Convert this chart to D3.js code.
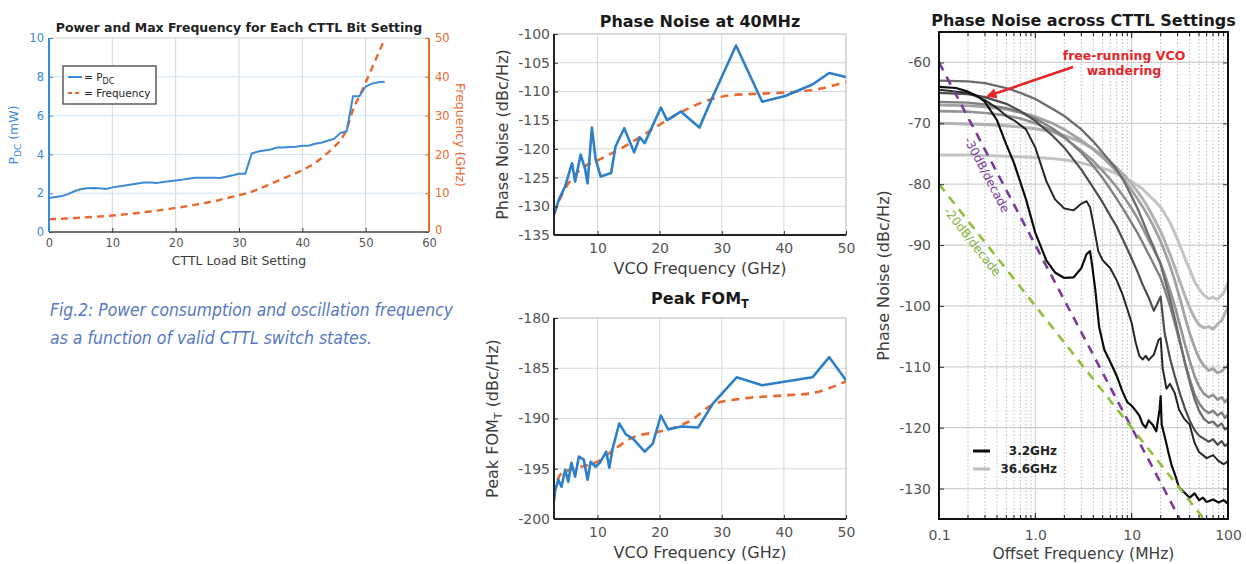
<!DOCTYPE html>
<html><head><meta charset="utf-8">
<script src="https://cdn.jsdelivr.net/npm/d3@7"></script>
<style>
body{margin:0;background:#fff}
svg{display:block}
text{font-family:"DejaVu Sans",sans-serif}
</style>
</head><body>
<svg id="c" width="1246" height="564"></svg>
<script>
// ---------------- DATA ----------------
// Panel 1: Power & max frequency vs CTTL bit setting
const bitSettings = [0,1,2,3,4,5,6,7,8,9,10,11,12,13,14,15,16,17,18,19,20,21,22,23,24,25,26,27,28,29,30,31,32,33,34,35,36,37,38,39,40,41,42,43,44,45,46,47,48,49,50,51,52,53];
const pdcValues = [1.75,1.8,1.85,1.95,2.1,2.2,2.25,2.27,2.25,2.22,2.3,2.35,2.4,2.45,2.5,2.55,2.55,2.52,2.58,2.62,2.66,2.7,2.75,2.8,2.8,2.8,2.8,2.78,2.85,2.92,3.0,3.0,4.05,4.15,4.2,4.25,4.35,4.35,4.38,4.4,4.45,4.45,4.55,4.6,4.7,4.8,5.1,5.2,7.0,7.0,7.5,7.65,7.72,7.75];
const freqValues = [3.3,3.35,3.4,3.5,3.6,3.7,3.8,3.9,4.0,4.1,4.25,4.4,4.55,4.7,4.9,5.1,5.3,5.5,5.7,5.95,6.2,6.45,6.7,7.0,7.3,7.6,7.95,8.3,8.7,9.1,9.5,9.9,10.4,11.0,11.7,12.4,13.1,13.8,14.5,15.2,15.9,16.8,17.8,19.0,20.4,21.9,23.6,26.5,31.5,35.0,38.5,42.3,46.0,49.8];
const p1XTicks = [0,10,20,30,40,50,60];
const p1LeftTicks = [0,2,4,6,8,10];
const p1RightTicks = [0,10,20,30,40,50];

// Panel 2: Phase noise at 40 MHz vs VCO frequency
const pnVcoGHz = [3.0,3.8,4.8,5.9,6.4,7.3,8.0,8.4,9.1,9.7,10.5,12.2,12.9,14.3,15.9,16.8,17.6,20.2,21.2,23.4,26.4,28.6,32.3,36.5,40.2,44.6,47.3,50.0];
const pnValues = [-131.5,-128.8,-126.5,-122.5,-125.7,-121,-123.5,-126,-116.3,-121.8,-124.8,-124.2,-119.6,-116.4,-120.6,-118,-119,-112.8,-115,-113.5,-116.3,-110.8,-102,-111.8,-110.8,-108.8,-106.8,-107.5];
const pnFitGHz = [3,4.5,6,8,10,14.5,20,24,28.5,32,36,41.5,46,50];
const pnFitValues = [-131.2,-127.5,-125,-123,-122,-119.5,-115.8,-113.3,-111.3,-110.6,-110.4,-110.1,-109.5,-108.3];
const pnTicks = [-135,-130,-125,-120,-115,-110,-105,-100];

// Panel 3: Peak FOM_T vs VCO frequency
const fomVcoGHz = [3.0,3.2,3.7,4.2,4.8,5.3,5.8,6.4,7.0,7.8,8.4,8.9,9.7,10.5,11.4,11.9,12.4,13.5,14.6,15.7,17.6,18.9,20.2,21.4,23.5,26.2,28.6,32.4,36.5,44.6,47.3,50.0];
const fomValues = [-198.2,-197.1,-196.1,-196.8,-195.1,-196.3,-194.4,-195.8,-193.8,-194.1,-196.1,-194.3,-194.8,-194.3,-193.3,-194.9,-193.1,-190.5,-191.6,-192,-193.3,-192.5,-189.7,-191.1,-190.8,-190.9,-188.5,-185.9,-186.7,-185.9,-183.9,-186.2];
const fomFitGHz = [3,4,6,8,10,12.4,16,20,25,28.6,32.4,40,44.3,50];
const fomFitValues = [-197.5,-195.6,-195,-194.7,-194.3,-193.2,-191.8,-191.3,-190.2,-188.6,-188.1,-187.7,-187.5,-186.3];
const vcoTicks = [10,20,30,40,50];
const fomTicks = [-200,-195,-190,-185,-180];

// Panel 4: Phase noise spectra across CTTL settings (offset MHz -> dBc/Hz)
const offsetBlack1 = [0.1,0.15,0.2,0.25,0.3,0.4,0.5,0.6,0.8,1.0,1.3,1.6,2.0,2.5,3.0,3.4,3.7,3.9,4.2,4.6,5.2,6.0,7.0,8.0,9.0,10,11,12,13,14,15,16.5,18,19.5,20,20.5,22,24,26,28,31,35,40,45,50,55,60,70,80,90,100];
const pn3p2GHz = [-64,-64.2,-64.8,-65.5,-66.5,-69.5,-73.5,-76.5,-82.5,-88,-92.5,-94.5,-95.4,-95.3,-93.8,-91.5,-91,-93.5,-97.5,-103.5,-107.2,-109.2,-111.5,-114,-115.8,-116.4,-117.2,-118,-119.4,-120,-118.8,-119.5,-120.6,-117,-114.8,-119.5,-121.4,-124,-126.2,-127.6,-129.8,-130.6,-131.5,-130.8,-131.9,-131.5,-132.2,-131.8,-132.3,-131.9,-132.5];
const offsetBlack2 = [0.1,0.2,0.3,0.4,0.5,0.6,0.8,1.0,1.3,1.6,2.0,2.5,3.0,3.4,3.7,4.0,4.5,5.0,6.0,7.0,8.0,9.0,10,11,12,13,14,15,17,19,20,21,23,25,28,31,35,40,45,50,60,70,80,90,100];
const pnSetting2 = [-64.5,-65,-66.2,-67.5,-68.8,-69.5,-71,-74,-79.5,-82.5,-84,-84.3,-83.2,-82.8,-83.8,-86.5,-91,-92.5,-93.8,-95.8,-98,-100.5,-102.8,-106,-108.2,-108.8,-108.2,-108.9,-108,-105.6,-105.3,-110.3,-113.6,-112.8,-114.3,-117,-118.5,-119.5,-122.5,-124,-125,-124.5,-125.5,-126,-125.5];
const offsetGrey = [0.1,0.2,0.3,0.5,0.7,1,1.5,2,3,4,5,6,7,8.5,10,11.5,13,15,17,20,22,25,28,32,36,40,45,50,56,63,70,78,86,93,100];
const pnSetting3 = [-65,-65.2,-65.7,-66.8,-68,-69.6,-72,-74,-77.6,-80.6,-83,-85.2,-87,-89.8,-92.2,-94.4,-96.5,-98.6,-100.8,-98.5,-104.5,-108.6,-111.5,-114.6,-117,-118.8,-120.4,-121.3,-121.8,-122.3,-121.9,-122.8,-122.2,-123,-122.6];
const pnSetting4 = [-63,-63.1,-63.4,-64.2,-65,-66,-67.6,-68.8,-71,-73,-74.8,-76.3,-77.6,-79.8,-82,-84,-86,-88.4,-90.4,-93.2,-95.6,-98.8,-102,-106,-109.6,-112.5,-115.3,-117.2,-118.5,-119.2,-119,-119.8,-119.3,-120.3,-120];
const pnSetting5 = [-66.5,-66.6,-66.9,-67.5,-68.2,-69.2,-70.8,-72.2,-74.8,-77,-79,-80.8,-82.4,-84.5,-86.4,-88,-89.6,-91.5,-93.2,-95.4,-97.3,-100,-102.8,-106.3,-109.5,-112,-114.5,-116,-117,-117.6,-117.2,-118,-117.5,-118.4,-117.8];
const pnSetting6 = [-68,-68.1,-68.3,-68.7,-69.2,-70,-71.2,-72.4,-74.5,-76.2,-77.8,-79.2,-80.5,-82.3,-84,-85.6,-87.2,-89.2,-90.8,-93,-94.8,-97.4,-100,-103.4,-106.5,-109,-111.5,-113.2,-114.4,-115,-114.6,-115.4,-115,-115.8,-115.2];
const pnSetting7 = [-67,-67.1,-67.3,-67.7,-68.2,-68.9,-70,-71,-72.8,-74.3,-75.6,-76.8,-77.9,-79.4,-81,-82.4,-83.7,-85.4,-87,-89.4,-91,-93.4,-95.8,-99,-102,-104.5,-106.8,-108.6,-109.8,-110.6,-110.3,-111,-110.7,-110.2,-109.8];
const pnSetting8 = [-70,-70.1,-70.2,-70.4,-70.6,-70.9,-71.4,-72,-73.1,-74.2,-75.3,-76.3,-77.3,-78.6,-80,-81.2,-82.4,-84,-85.6,-87.8,-89.3,-91.5,-93.6,-96.2,-98.5,-100.3,-102,-103.1,-103.6,-103.4,-103.8,-103,-102.4,-101.2,-100.3];
const pn36p6GHz = [-75.2,-75.2,-75.3,-75.4,-75.5,-75.6,-75.8,-76,-76.5,-77,-77.4,-77.8,-78.3,-78.9,-79.6,-80.2,-80.8,-81.8,-82.6,-83.8,-84.8,-86.3,-88,-90.2,-92.3,-94,-96,-97.2,-98.2,-98.8,-98.6,-98.9,-98.2,-97.4,-96.2];
const slope30Line = [[0.1,-60],[31.6,-135]];
const slope20Line = [[0.1,-80],[56.2,-135]];
const offsetTicks = [0.1,1,10,100];
const offsetTickLabels = ["0.1","1.0","10","100"];
const pn4Ticks = [-130,-120,-110,-100,-90,-80,-70,-60];

// ---------------- DRAW ----------------
const svg = d3.select("#c");
const BLUE = "#3a8ad6", ORANGE = "#e8692f", TICKC = "#555", LABC = "#3d3d3d";
const hy = d => String(d);

function styleAxis(sel, size, color){
  sel.select(".domain").remove();
  sel.selectAll("text").attr("font-size", size).attr("fill", color).attr("font-family",'"DejaVu Sans",sans-serif');
  sel.selectAll("line").attr("stroke", "#333");
}
function addClip(id, r){
  svg.append("clipPath").attr("id", id).append("rect")
    .attr("x", r.x0).attr("y", r.y0).attr("width", r.x1 - r.x0).attr("height", r.y1 - r.y0);
}

// ===== Panel 1 =====
(function(){
  const r = {x0:49, x1:429, y0:38, y1:232};
  const x = d3.scaleLinear().domain([0,60]).range([r.x0, r.x1]);
  const yL = d3.scaleLinear().domain([0,10]).range([r.y1, r.y0]);
  const yR = d3.scaleLinear().domain([0,50]).range([r.y1, r.y0]);
  const g = svg.append("g");
  g.selectAll(".vg").data(p1XTicks.slice(1,-1)).join("line")
    .attr("x1", d=>x(d)).attr("x2", d=>x(d)).attr("y1", r.y0).attr("y2", r.y1)
    .attr("stroke", "#d6d6d6").attr("stroke-width", 1);
  g.selectAll(".hg").data(p1LeftTicks.slice(1,-1)).join("line")
    .attr("x1", r.x0).attr("x2", r.x1).attr("y1", d=>yL(d)).attr("y2", d=>yL(d))
    .attr("stroke", "#d3e4f3").attr("stroke-width", 1);
  g.append("line").attr("x1", r.x0).attr("x2", r.x1).attr("y1", r.y0).attr("y2", r.y0).attr("stroke", "#cfcfcf");
  addClip("clip1", r);
  const lc = g.append("g").attr("clip-path", "url(#clip1)");
  lc.append("path").datum(bitSettings.map((b,i)=>[b, freqValues[i]]))
    .attr("d", d3.line().x(d=>x(d[0])).y(d=>yR(d[1])).curve(d3.curveMonotoneX))
    .attr("fill","none").attr("stroke", ORANGE).attr("stroke-width", 2.4).attr("stroke-dasharray","7,5");
  lc.append("path").datum(bitSettings.map((b,i)=>[b, pdcValues[i]]))
    .attr("d", d3.line().x(d=>x(d[0])).y(d=>yL(d[1])))
    .attr("fill","none").attr("stroke", BLUE).attr("stroke-width", 2);
  const ax = g.append("g").attr("transform", `translate(0,${r.y1})`)
    .call(d3.axisBottom(x).tickValues(p1XTicks).tickSize(-4).tickPadding(7).tickFormat(hy));
  styleAxis(ax, 11.5, TICKC);
  const al = g.append("g").attr("transform", `translate(${r.x0},0)`)
    .call(d3.axisLeft(yL).tickValues(p1LeftTicks).tickSize(-4).tickPadding(5).tickFormat(hy));
  styleAxis(al, 11.5, BLUE); al.selectAll("line").attr("stroke", BLUE);
  const ar = g.append("g").attr("transform", `translate(${r.x1},0)`)
    .call(d3.axisRight(yR).tickValues(p1RightTicks).tickSize(-4).tickPadding(6).tickFormat(hy));
  styleAxis(ar, 11.5, ORANGE); ar.selectAll("line").attr("stroke", ORANGE);
  ar.selectAll(".tick").filter(d => d === 0).select("text").attr("dy", "0.15em");
  g.append("line").attr("x1", r.x0).attr("x2", r.x1).attr("y1", r.y1).attr("y2", r.y1).attr("stroke", "#444").attr("stroke-width", 1.6);
  g.append("line").attr("x1", r.x0).attr("x2", r.x0).attr("y1", r.y0).attr("y2", r.y1).attr("stroke", BLUE).attr("stroke-width", 2);
  g.append("line").attr("x1", r.x1).attr("x2", r.x1).attr("y1", r.y0).attr("y2", r.y1).attr("stroke", ORANGE).attr("stroke-width", 2);
  g.append("text").attr("x", (r.x0+r.x1)/2).attr("y", 32).attr("text-anchor","middle")
    .attr("font-size", 12.5).attr("font-weight","bold").attr("fill","#222")
    .text("Power and Max Frequency for Each CTTL Bit Setting");
  g.append("text").attr("x", (r.x0+r.x1)/2).attr("y", 265).attr("text-anchor","middle")
    .attr("font-size", 12.5).attr("fill", LABC).text("CTTL Load Bit Setting");
  const tl = g.append("text").attr("transform", `translate(18,${(r.y0+r.y1)/2}) rotate(-90)`)
    .attr("text-anchor","middle").attr("font-size", 12.5).attr("fill", BLUE);
  tl.append("tspan").text("P");
  tl.append("tspan").attr("font-size", 9).attr("dy", 3).text("DC");
  tl.append("tspan").attr("dy", -3).text(" (mW)");
  g.append("text").attr("transform", `translate(456,${(r.y0+r.y1)/2}) rotate(90)`)
    .attr("text-anchor","middle").attr("font-size", 12.5).attr("fill", ORANGE).text("Frequency (GHz)");
  // legend
  const lg = g.append("g");
  lg.append("rect").attr("x", 63).attr("y", 66).attr("width", 93).attr("height", 38)
    .attr("fill","#fff").attr("stroke","#444").attr("stroke-width", 1.3);
  lg.append("line").attr("x1", 68).attr("x2", 82).attr("y1", 77).attr("y2", 77).attr("stroke", BLUE).attr("stroke-width", 2);
  lg.append("line").attr("x1", 68).attr("x2", 82).attr("y1", 93).attr("y2", 93).attr("stroke", ORANGE).attr("stroke-width", 2).attr("stroke-dasharray","4,3");
  const t1 = lg.append("text").attr("x", 84).attr("y", 81).attr("font-size", 10.5).attr("fill","#222");
  t1.append("tspan").text("= P");
  t1.append("tspan").attr("font-size", 8).attr("dy", 3).text("DC");
  lg.append("text").attr("x", 84).attr("y", 97).attr("font-size", 10.5).attr("fill","#222").text("= Frequency");
})();

// caption
(function(){
  const cap = svg.append("g").attr("fill", "#5677c2");
  cap.append("text").attr("x", 50).attr("y", 316).attr("font-size", 17)
    .attr("font-family",'"Open Sans",sans-serif').attr("font-style","italic").attr("font-weight",300)
    .attr("textLength", 403).attr("lengthAdjust","spacingAndGlyphs")
    .text("Fig.2: Power consumption and oscillation frequency");
  cap.append("text").attr("x", 50).attr("y", 344).attr("font-size", 17)
    .attr("font-family",'"Open Sans",sans-serif').attr("font-style","italic").attr("font-weight",300)
    .attr("textLength", 322).attr("lengthAdjust","spacingAndGlyphs")
    .text("as a function of valid CTTL switch states.");
})();

// ===== Panels 2 & 3 =====
function vcoPanel(cfg){
  const r = cfg.rect;
  const x = d3.scaleLinear().domain([3,50]).range([r.x0, r.x1]);
  const y = d3.scaleLinear().domain(cfg.yDomain).range([r.y1, r.y0]);
  const g = svg.append("g");
  g.selectAll(".vg").data(vcoTicks).join("line")
    .attr("x1", d=>x(d)).attr("x2", d=>x(d)).attr("y1", r.y0).attr("y2", r.y1)
    .attr("stroke", "#d9d9d9");
  g.selectAll(".hg").data(cfg.yTicks).join("line")
    .attr("x1", r.x0).attr("x2", r.x1).attr("y1", d=>y(d)).attr("y2", d=>y(d))
    .attr("stroke", "#d9d9d9");
  g.append("line").attr("x1", r.x0).attr("x2", r.x1).attr("y1", r.y0).attr("y2", r.y0).attr("stroke", "#c8c8c8");
  g.append("line").attr("x1", r.x1).attr("x2", r.x1).attr("y1", r.y0).attr("y2", r.y1).attr("stroke", "#c8c8c8");
  addClip(cfg.id, r);
  const lc = g.append("g").attr("clip-path", `url(#${cfg.id})`);
  lc.append("path").datum(cfg.fx.map((v,i)=>[v, cfg.fy[i]]))
    .attr("d", d3.line().x(d=>x(d[0])).y(d=>y(d[1])).curve(d3.curveMonotoneX))
    .attr("fill","none").attr("stroke", ORANGE).attr("stroke-width", 2.6).attr("stroke-dasharray","8,6");
  lc.append("path").datum(cfg.dx.map((v,i)=>[v, cfg.dy[i]]))
    .attr("d", d3.line().x(d=>x(d[0])).y(d=>y(d[1])))
    .attr("fill","none").attr("stroke", "#2d7fc9").attr("stroke-width", 2.6).attr("stroke-linejoin","round");
  const ax = g.append("g").attr("transform", `translate(0,${r.y1})`)
    .call(d3.axisBottom(x).tickValues(vcoTicks).tickSize(-4).tickPadding(8).tickFormat(hy));
  styleAxis(ax, 14, TICKC);
  const ay = g.append("g").attr("transform", `translate(${r.x0},0)`)
    .call(d3.axisLeft(y).tickValues(cfg.yTicks).tickSize(-4).tickPadding(4).tickFormat(hy));
  styleAxis(ay, 14, TICKC);
  g.append("line").attr("x1", r.x0).attr("x2", r.x1).attr("y1", r.y1).attr("y2", r.y1).attr("stroke", "#222").attr("stroke-width", 2);
  g.append("line").attr("x1", r.x0).attr("x2", r.x0).attr("y1", r.y0).attr("y2", r.y1).attr("stroke", "#222").attr("stroke-width", 2);
  const tt = g.append("text").attr("x", (r.x0+r.x1)/2).attr("y", cfg.titleY).attr("text-anchor","middle")
    .attr("font-size", 16).attr("font-weight","bold").attr("fill","#1a1a1a");
  tt.append("tspan").text(cfg.title);
  if (cfg.titleSub) tt.append("tspan").attr("font-size", 11.5).attr("dy", 4).text(cfg.titleSub);
  g.append("text").attr("x", (r.x0+r.x1)/2).attr("y", r.y1 + 39).attr("text-anchor","middle")
    .attr("font-size", 16).attr("fill", LABC).text("VCO Frequency (GHz)");
  const yl = g.append("text").attr("transform", `translate(${cfg.yLabX},${(r.y0+r.y1)/2}) rotate(-90)`)
    .attr("text-anchor","middle").attr("font-size", 16).attr("fill", LABC);
  yl.append("tspan").text(cfg.yLab1);
  if (cfg.yLabSub){
    yl.append("tspan").attr("font-size", 11).attr("dy", 4).text(cfg.yLabSub);
    yl.append("tspan").attr("dy", -4).text(cfg.yLab2);
  }
}
vcoPanel({id:"clip2", rect:{x0:554,x1:846,y0:34,y1:235}, yDomain:[-135,-100], yTicks:pnTicks,
  dx:pnVcoGHz, dy:pnValues, fx:pnFitGHz, fy:pnFitValues, title:"Phase Noise at 40MHz", titleY:27,
  yLabX:508, yLab1:"Phase Noise (dBc/Hz)"});
vcoPanel({id:"clip3", rect:{x0:554,x1:846,y0:318,y1:519}, yDomain:[-200,-180], yTicks:fomTicks,
  dx:fomVcoGHz, dy:fomValues, fx:fomFitGHz, fy:fomFitValues, title:"Peak FOM", titleSub:"T", titleY:304,
  yLabX:498, yLab1:"Peak FOM", yLabSub:"T", yLab2:" (dBc/Hz)"});

// ===== Panel 4 =====
(function(){
  const r = {x0:939, x1:1228, y0:32, y1:519};
  const x = d3.scaleLog().domain([0.1,100]).range([r.x0, r.x1]);
  const y = d3.scaleLinear().domain([-135,-55]).range([r.y1, r.y0]);
  const g = svg.append("g");
  const allT = x.ticks();
  const minorT = allT.filter(t => !offsetTicks.some(m => Math.abs(m - t) < 1e-9));
  g.selectAll(".mg").data(minorT).join("line")
    .attr("x1", d=>x(d)).attr("x2", d=>x(d)).attr("y1", r.y0).attr("y2", r.y1)
    .attr("stroke", "#b9b9b9").attr("stroke-width", 1).attr("stroke-dasharray", "1.5,2");
  g.selectAll(".Mg").data(offsetTicks).join("line")
    .attr("x1", d=>x(d)).attr("x2", d=>x(d)).attr("y1", r.y0).attr("y2", r.y1)
    .attr("stroke", "#cccccc").attr("stroke-width", 1);
  g.selectAll(".hg").data(pn4Ticks).join("line")
    .attr("x1", r.x0).attr("x2", r.x1).attr("y1", d=>y(d)).attr("y2", d=>y(d))
    .attr("stroke", "#cfcfcf").attr("stroke-width", 1.2);
  addClip("clip4", r);
  const lc = g.append("g").attr("clip-path", "url(#clip4)");
  const line = d3.line().x(d=>x(d[0])).y(d=>y(d[1]));
  const series = [
    {f: offsetGrey, v: pn36p6GHz, c: "#c3c3c3", w: 3},
    {f: offsetGrey, v: pnSetting8, c: "#b2b2b2", w: 3},
    {f: offsetGrey, v: pnSetting7, c: "#a2a2a2", w: 2.8},
    {f: offsetGrey, v: pnSetting6, c: "#939393", w: 2.6},
    {f: offsetGrey, v: pnSetting5, c: "#808080", w: 2.4},
    {f: offsetGrey, v: pnSetting4, c: "#6c6c6c", w: 2.3},
    {f: offsetGrey, v: pnSetting3, c: "#4d4d4d", w: 2.2},
    {f: offsetBlack2, v: pnSetting2, c: "#262626", w: 2},
    {f: offsetBlack1, v: pn3p2GHz, c: "#0d0d0d", w: 2.2}
  ];
  series.forEach(s => {
    lc.append("path").datum(s.f.map((f,i)=>[f, s.v[i]])).attr("d", line)
      .attr("fill","none").attr("stroke", s.c).attr("stroke-width", s.w).attr("stroke-linejoin","round");
  });
  lc.append("path").datum(slope30Line).attr("d", line).attr("fill","none")
    .attr("stroke","#7b3b9c").attr("stroke-width", 2.6).attr("stroke-dasharray","9,7");
  lc.append("path").datum(slope20Line).attr("d", line).attr("fill","none")
    .attr("stroke","#90bf3c").attr("stroke-width", 2.6).attr("stroke-dasharray","9,7");
  function slopeLabel(pts, at, txt, col){
    const a = Math.atan2(y(pts[1][1]) - y(pts[0][1]), x(pts[1][0]) - x(pts[0][0])) * 180 / Math.PI;
    g.append("text").attr("transform", `translate(${x(at[0])},${y(at[1])}) rotate(${a})`)
      .attr("text-anchor","middle").attr("dominant-baseline","middle")
      .attr("font-size", 12).attr("fill", col).text(txt);
  }
  slopeLabel(slope30Line, [0.31,-78.5], "-30dB/decade", "#7b3b9c");
  slopeLabel(slope20Line, [0.22,-89.5], "-20dB/decade", "#80b23a");
  // ticks
  g.selectAll(".tt").data(allT).join("line")
    .attr("x1", d=>x(d)).attr("x2", d=>x(d)).attr("y1", r.y0).attr("y2", d=> r.y0 + (offsetTicks.includes(d)?6:4))
    .attr("stroke","#111").attr("stroke-width",1);
  g.selectAll(".tb").data(allT).join("line")
    .attr("x1", d=>x(d)).attr("x2", d=>x(d)).attr("y1", r.y1).attr("y2", d=> r.y1 - (offsetTicks.includes(d)?6:4))
    .attr("stroke","#111").attr("stroke-width",1);
  const ax = g.append("g").attr("transform", `translate(0,${r.y1})`)
    .call(d3.axisBottom(x).tickValues(offsetTicks).tickSize(0).tickPadding(11)
      .tickFormat((d,i)=>offsetTickLabels[i]));
  styleAxis(ax, 14, TICKC);
  const ay = g.append("g").attr("transform", `translate(${r.x0},0)`)
    .call(d3.axisLeft(y).tickValues(pn4Ticks).tickSize(-5).tickPadding(8).tickFormat(hy));
  styleAxis(ay, 14, TICKC);
  const ay2 = g.append("g").attr("transform", `translate(${r.x1},0)`)
    .call(d3.axisRight(y).tickValues(pn4Ticks).tickSize(-5).tickFormat(""));
  styleAxis(ay2, 1, TICKC);
  g.append("rect").attr("x", r.x0).attr("y", r.y0).attr("width", r.x1-r.x0).attr("height", r.y1-r.y0)
    .attr("fill","none").attr("stroke","#111").attr("stroke-width", 2);
  // annotation
  svg.append("defs").append("marker").attr("id","arr").attr("viewBox","0 0 10 10")
    .attr("refX", 8).attr("refY", 5).attr("markerWidth", 4).attr("markerHeight", 4).attr("orient","auto")
    .append("path").attr("d","M0,0 L10,5 L0,10 z").attr("fill","#e5262a");
  g.append("line").attr("x1", 1073).attr("y1", 67).attr("x2", 988).attr("y2", 96)
    .attr("stroke","#e5262a").attr("stroke-width", 2.6).attr("marker-end","url(#arr)");
  g.append("text").attr("x", 1124).attr("y", 60).attr("text-anchor","middle").attr("font-size", 12.5)
    .attr("font-weight","bold").attr("font-family",'"Liberation Sans",Arial,sans-serif').attr("fill","#e5262a").text("free-running VCO");
  g.append("text").attr("x", 1124).attr("y", 75).attr("text-anchor","middle").attr("font-size", 12.5)
    .attr("font-weight","bold").attr("font-family",'"Liberation Sans",Arial,sans-serif').attr("fill","#e5262a").text("wandering");
  // legend
  g.append("line").attr("x1", 973).attr("x2", 990).attr("y1", 451).attr("y2", 451).attr("stroke","#0d0d0d").attr("stroke-width", 3);
  g.append("line").attr("x1", 973).attr("x2", 990).attr("y1", 469).attr("y2", 469).attr("stroke","#bdbdbd").attr("stroke-width", 3);
  g.append("text").attr("x", 1057).attr("y", 455).attr("text-anchor","end").attr("font-size", 12)
    .attr("font-weight","bold").attr("font-family",'"Liberation Sans",Arial,sans-serif').attr("fill","#222").text("3.2GHz");
  g.append("text").attr("x", 1057).attr("y", 473).attr("text-anchor","end").attr("font-size", 12)
    .attr("font-weight","bold").attr("font-family",'"Liberation Sans",Arial,sans-serif').attr("fill","#222").text("36.6GHz");
  // titles & labels
  g.append("text").attr("x", (r.x0+r.x1)/2).attr("y", 26).attr("text-anchor","middle")
    .attr("font-size", 16).attr("font-weight","bold").attr("fill","#1a1a1a").text("Phase Noise across CTTL Settings");
  g.append("text").attr("x", (r.x0+r.x1)/2).attr("y", 559).attr("text-anchor","middle")
    .attr("font-size", 15.5).attr("fill", LABC).text("Offset Frequency (MHz)");
  g.append("text").attr("transform", `translate(889,${(r.y0+r.y1)/2}) rotate(-90)`)
    .attr("text-anchor","middle").attr("font-size", 16).attr("fill", LABC).text("Phase Noise (dBc/Hz)");
})();
</script>
</body></html>
